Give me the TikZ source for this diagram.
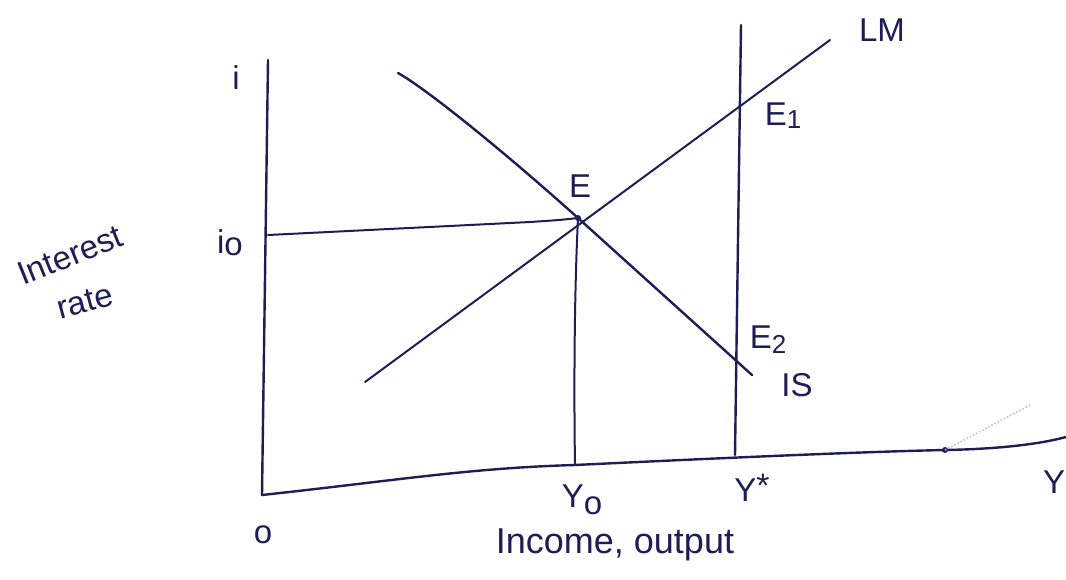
\documentclass[tikz,border=0pt]{standalone}
\usepackage{fontspec}
\setmainfont{Liberation Sans}
\definecolor{ink}{RGB}{30,30,85}
\begin{document}
\begin{tikzpicture}[x=1pt,y=-1pt,
  curve/.style={draw=ink,line width=2.4pt,line cap=round,line join=round},
  lbl/.style={text=ink,inner sep=0pt,font=\fontsize{33}{36}\selectfont}]
\useasboundingbox[fill=white] (0,0) rectangle (1066,579);
% key points
\coordinate (O) at (262,495);
\coordinate (Ytop) at (268,60);
\coordinate (Xend) at (1066,437);
\coordinate (Ysb) at (735,455);
\coordinate (Yst) at (741,25);
\coordinate (LMa) at (365,382);
\coordinate (LMb) at (830,40);
\coordinate (ISa) at (398,73);
\coordinate (ISb) at (752,375);
\coordinate (E) at (578,218);
\coordinate (i0) at (268,235);
\coordinate (Y0) at (575,465);
\coordinate (D) at (945,450);
% axes
\draw[curve] (Ytop) -- (O);
\draw[curve] (O) .. controls (400,480) and (470,468) .. (575,465)
  .. controls (680,460) and (850,452) .. (D)
  .. controls (1000,449) and (1040,444) .. (Xend);
% vertical Y*
\draw[curve] (Yst) -- (Ysb);
% LM and IS
\draw[curve,line width=2pt] (LMa) -- (LMb);
\draw[curve] (ISa) .. controls (425,88) and (500,148) .. (E) -- (ISb);
% lines to axes
\draw[curve,line width=2pt] (i0) -- (530,222) .. controls (560,220) .. (E);
\draw[curve,line width=2pt] (E) .. controls (574,300) and (574,400) .. (Y0);
\fill[ink] (E) circle (3pt);
\fill[ink] (D) circle (3pt);
\draw[gray!50,dotted,line width=1.5pt] (D) -- (1030,405);
% labels
\node[lbl] (li) at (236,78) {i};
\node[lbl] (li0) at (230,243) {i\raisebox{-2pt}{o}};
\node[lbl,rotate=22] (lint) at (70,255) {Interest};
\node[lbl,rotate=15] (lrate) at (85,302) {rate};
\node[lbl] (lO) at (263,535) {o};
\node[lbl] (lY0) at (582,500) {Y\raisebox{-7pt}{o}};
\node[lbl] (lYs) at (752,488) {Y\raisebox{4pt}{\fontsize{34}{34}\selectfont *}};
\node[lbl,font=\fontsize{36}{40}\selectfont] (lInc) at (615,545) {Income, output};
\node[lbl,anchor=west] (lY) at (1043,482) {Y};
\node[lbl] (lLM) at (882,30) {LM};
\node[lbl] (lE1) at (783,116) {E\raisebox{-3pt}{\fontsize{26}{26}\selectfont 1}};
\node[lbl] (lE) at (580,186) {E};
\node[lbl] (lE2) at (768,340) {E\raisebox{-5pt}{\fontsize{26}{26}\selectfont 2}};
\node[lbl] (lIS) at (797,385) {IS};
\end{tikzpicture}
\end{document}
